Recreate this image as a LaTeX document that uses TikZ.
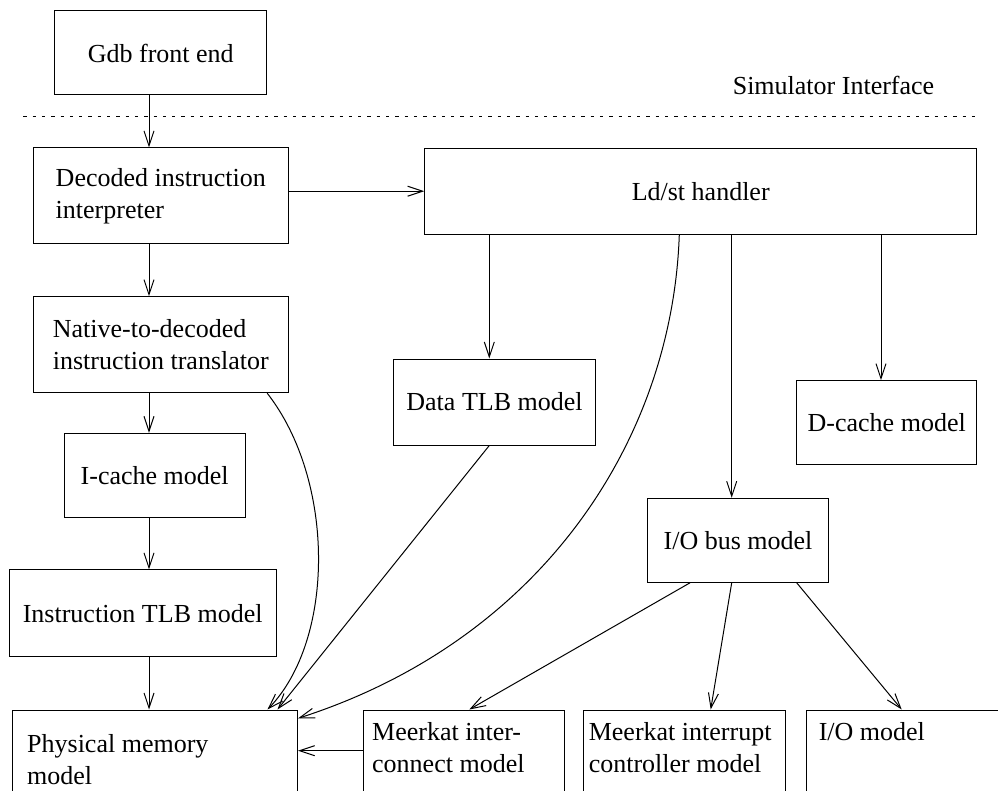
\documentclass[tikz,border=0pt]{standalone}
\usepackage{fontspec}
\setmainfont{Liberation Serif}
\usetikzlibrary{positioning,arrows.meta}

\begin{document}
\begin{tikzpicture}[
  x=1pt, y=-1pt,
  font=\fontsize{26}{32}\selectfont,
  line width=1pt,
  blk/.style={draw, inner sep=4pt},
  base/.style={draw, anchor=north west, align=flush left, inner ysep=12.7pt, text depth=80pt},
  arr/.style={-{Straight Barb[length=15pt,width=10pt]}},
  sep/.style={dash pattern=on 3.3pt off 6pt}]
  \useasboundingbox (0,0) rectangle (998,791);
  \node[blk, minimum width=211.7pt, minimum height=84pt] (gdb) at (160.8,53) {Gdb front end};
  \node[blk, align=flush left, minimum width=255pt, minimum height=95.7pt] (dec) at (160.8,195.8) {Decoded instruction\\interpreter};
  \node[blk, align=flush left, minimum width=255pt, minimum height=96pt] (nat) at (160.8,344.7) {Native-to-decoded\\instruction translator};
  \node[blk, minimum width=180.7pt, minimum height=84pt] (ic) at (154.7,475.3) {I-cache model};
  \node[blk, minimum width=266.7pt, minimum height=86.7pt] (itlb) at (142.7,613.3) {Instruction TLB model};
  \node[blk, minimum width=552pt, minimum height=85.7pt] (ls) at (700.7,191.2) {Ld/st handler};
  \node[blk, minimum width=202.4pt, minimum height=86pt] (dtlb) at (494.5,402) {Data TLB model};
  \node[blk, minimum width=180pt, minimum height=83.6pt] (dc) at (886.7,422.5) {D-cache model};
  \node[blk, minimum width=180.6pt, minimum height=84pt] (iob) at (738,540.3) {I/O bus model};
  \node[base, text width=256pt, inner xsep=14.4pt, inner ysep=24.4pt] (pm) at (12.3,709.5) {Physical memory\\model};
  \node[base, text width=183.3pt, inner xsep=9pt] (mic) at (362.7,709.5) {Meerkat inter-\\connect model};
  \node[base, text width=191.7pt, inner xsep=5pt] (mint) at (583.3,709.5) {Meerkat interrupt\\controller model};
  \node[base, text width=190pt, inner xsep=12.3pt] (iom) at (806,709.5) {I/O model};
  \node[inner sep=0pt, anchor=base west] (simif) at (732.3,95) {Simulator Interface};
  \draw[sep] (23.3,116.7) -- (976.7,116.7);
  \coordinate (spine) at (149,0);
  \foreach \a/\b in {gdb/dec, dec/nat, nat/ic, ic/itlb, itlb/pm}
    \draw[arr] (\a.south -| spine) -- (\b.north -| spine);
  \draw[arr] (dec.east |- ls.west) -- (ls.west);
  \foreach \t/\s in {dtlb/-5.2, iob/-6.3, dc/-5.7}
    \draw[arr] ([xshift=\s pt]\t.north |- ls.south) -- ([xshift=\s pt]\t.north);
  \draw[arr] ([xshift=-21.6pt]nat.south east) .. controls +(68,87) and +(68,-70) .. ([xshift=-30.6pt]pm.north east);
  \draw[arr] ([xshift=-5.2pt]dtlb.south) -- ([xshift=-20.6pt]pm.north east);
  \draw[arr] ([xshift=-21.4pt]ls.south) .. controls +(-7,206) and +(243,-78) .. ([yshift=-8.8pt]pm.north east);
  \coordinate (mlink) at ([yshift=-41.2pt]mic.north west);
  \draw[arr] (mlink) -- (mlink -| pm.east);
  \draw[arr] ([xshift=-48pt]iob.south) -- ([xshift=106.6pt]mic.north west);
  \draw[arr] ([xshift=-6.3pt]iob.south) -- ([xshift=127.4pt]mint.north west);
  \draw[arr] ([xshift=58.7pt]iob.south) -- ([xshift=95.7pt]iom.north west);
\end{tikzpicture}
\end{document}
